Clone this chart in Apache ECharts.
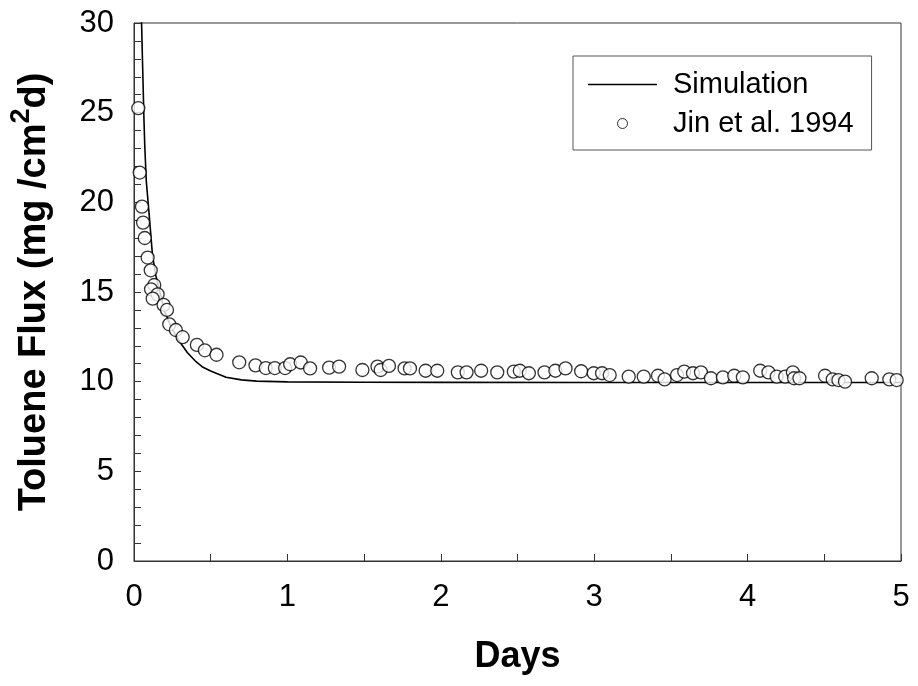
<!DOCTYPE html>
<html>
<head>
<meta charset="utf-8">
<script src="https://cdn.jsdelivr.net/npm/echarts@6/dist/echarts.min.js"></script>
<style>
html,body{margin:0;padding:0;background:#fff;}
#chart{width:918px;height:686px;}
</style>
</head>
<body>
<div id="chart"></div>
<script>
// Simulation curve (days, flux)
const simDays = [0.048, 0.055, 0.06, 0.065, 0.07, 0.08, 0.09, 0.1, 0.12, 0.14, 0.16, 0.18, 0.2, 0.25, 0.3, 0.35, 0.4, 0.45, 0.5, 0.6, 0.7, 0.8, 1.0, 1.5, 2.0, 3.0, 4.0, 5.0];
const simFlux = [30.5, 28.0, 26.3, 24.6, 23.2, 21.2, 20.2, 19.2, 17.1, 16.0, 15.3, 14.6, 13.9, 12.9, 12.2, 11.6, 11.15, 10.8, 10.6, 10.25, 10.1, 10.03, 9.99, 9.97, 9.96, 9.95, 9.95, 9.95];

// Measured data, Jin et al. 1994
const obsDays = [0.028, 0.037, 0.052, 0.059, 0.07, 0.089, 0.109, 0.132, 0.111, 0.154, 0.122, 0.193, 0.215, 0.23, 0.273, 0.317, 0.41, 0.462, 0.538, 0.686,
  0.792, 0.859, 0.918, 0.985, 1.018, 1.087, 1.148, 1.272, 1.337, 1.489, 1.587, 1.608, 1.662, 1.764, 1.799, 1.901, 1.977,
  2.111, 2.168, 2.263, 2.368, 2.476, 2.515, 2.574, 2.676, 2.747, 2.813, 2.915, 2.997,
  3.051, 3.101, 3.225, 3.323, 3.416, 3.459, 3.54, 3.587, 3.644, 3.696, 3.761, 3.839, 3.913, 3.969,
  4.082, 4.136, 4.19, 4.245, 4.295, 4.303, 4.338, 4.505, 4.555, 4.592, 4.635, 4.809, 4.924, 4.972];
const obsFlux = [25.25, 21.66, 19.76, 18.87, 18.01, 16.92, 16.21, 15.39, 15.15, 14.87, 14.63, 14.28, 14.0, 13.2, 12.88, 12.48, 12.05, 11.75, 11.5, 11.08,
  10.91, 10.76, 10.76, 10.76, 10.97, 11.07, 10.74, 10.78, 10.84, 10.65, 10.84, 10.65, 10.88, 10.74, 10.74, 10.61, 10.61,
  10.52, 10.52, 10.61, 10.52, 10.56, 10.61, 10.47, 10.52, 10.61, 10.74, 10.58, 10.47,
  10.47, 10.37, 10.28, 10.28, 10.33, 10.13, 10.37, 10.56, 10.47, 10.52, 10.19, 10.24, 10.33, 10.24,
  10.61, 10.52, 10.28, 10.28, 10.52, 10.19, 10.19, 10.33, 10.13, 10.09, 10.0, 10.19, 10.13, 10.09];

const xTickLabels = ['0', '1', '2', '3', '4', '5'];
const yTickLabels = ['0', '5', '10', '15', '20', '25', '30'];

const FONT = "'Liberation Sans', Arial, Helvetica, sans-serif";
const simData = simDays.map((d, i) => [d, simFlux[i]]);
const obsData = obsDays.map((d, i) => [d, obsFlux[i]]);

const chart = echarts.init(document.getElementById('chart'), null, {renderer: 'canvas'});
chart.setOption({
  animation: false,
  backgroundColor: '#fff',
  grid: {left: 133, right: 17, top: 23, bottom: 125, show: true, borderColor: '#333', borderWidth: 1, backgroundColor: 'transparent'},
  legend: {
    orient: 'vertical',
    left: 573, top: 56,
    padding: [14, 18, 12, 15],
    itemWidth: 69, itemHeight: 10, itemGap: 10,
    symbolKeepAspect: true,
    borderColor: '#555', borderWidth: 1, backgroundColor: '#fff',
    textStyle: {fontFamily: FONT, fontSize: 29, color: '#000', padding: [0, 0, 0, 11]},
    data: [
      {name: 'Simulation', icon: 'path://M0,0 H69 V1.6 H0 Z', itemStyle: {color: '#000', borderWidth: 0}},
      {name: 'Jin et al. 1994', icon: 'circle', itemStyle: {color: '#fff', borderColor: '#000', borderWidth: 1}}
    ]
  },
  xAxis: {
    type: 'value', min: 0, max: 5, interval: 0.5,
    name: 'Days', nameLocation: 'middle', nameGap: 78,
    nameTextStyle: {fontFamily: FONT, fontSize: 36, fontWeight: 'bold', color: '#000'},
    axisLine: {show: true, lineStyle: {color: '#333', width: 1}},
    axisTick: {show: true, inside: true, length: 7, lineStyle: {color: '#333'}},
    splitLine: {show: false},
    axisLabel: {
      margin: 21, fontFamily: FONT, fontSize: 31, color: '#000',
      formatter: v => { const i = Math.round(v); return Math.abs(v - i) < 1e-6 ? xTickLabels[i] : ''; }
    }
  },
  yAxis: {
    type: 'value', min: 0, max: 30, interval: 1,
    name: '{n|Toluene Flux (mg /cm}{s|2}{n|d)}', nameLocation: 'middle', nameGap: 80, nameRotate: 90,
    nameTextStyle: {
      fontFamily: FONT, fontSize: 38, fontWeight: 'bold', color: '#000',
      rich: {
        n: {fontFamily: FONT, fontSize: 38, fontWeight: 'bold', color: '#000', lineHeight: 46, verticalAlign: 'bottom'},
        s: {fontFamily: FONT, fontSize: 27, fontWeight: 'bold', color: '#000', lineHeight: 27, verticalAlign: 'top'}
      }
    },
    axisLine: {show: true, lineStyle: {color: '#333', width: 1}},
    axisTick: {show: true, inside: true, length: 7, lineStyle: {color: '#333'}},
    splitLine: {show: false},
    axisLabel: {
      margin: 20, fontFamily: FONT, fontSize: 31, color: '#000',
      formatter: v => { const r = Math.round(v); return (Math.abs(v - r) < 1e-6 && r % 5 === 0) ? yTickLabels[r / 5] : ''; }
    }
  },
  series: [
    {
      name: 'Simulation', type: 'line', data: simData, symbol: 'none', smooth: false,
      lineStyle: {color: '#000', width: 1.6}, itemStyle: {color: '#000'}, clip: true, z: 2
    },
    {
      name: 'Jin et al. 1994', type: 'scatter', data: obsData, symbol: 'circle', symbolSize: 13,
      itemStyle: {color: '#fff', borderColor: '#000', borderWidth: 1.3}, z: 3
    }
  ]
});
</script>
</body>
</html>
